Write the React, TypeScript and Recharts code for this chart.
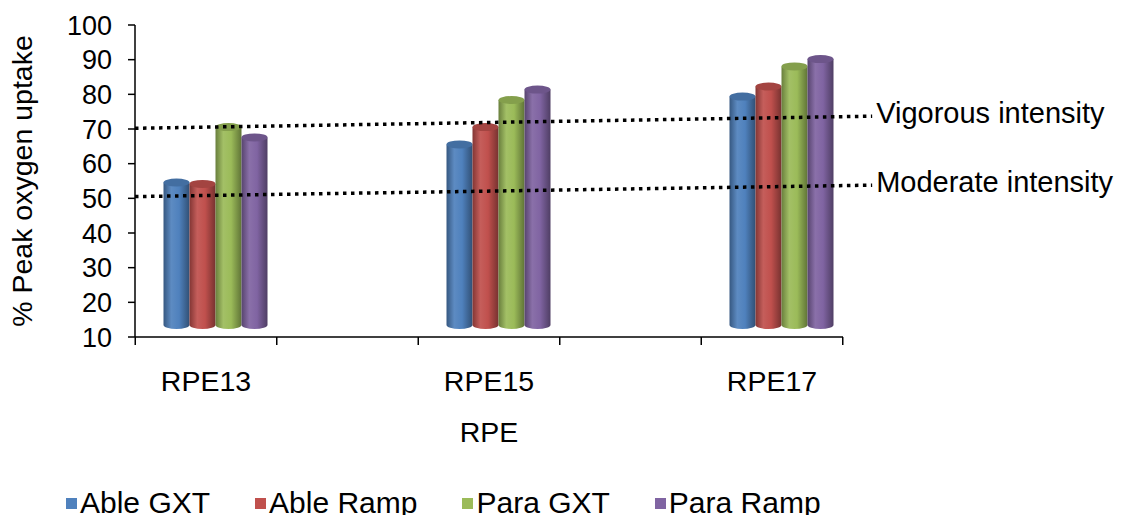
import React from "react";
import {
  Bar,
  BarChart,
  Legend,
  ReferenceDot,
  ReferenceLine,
  XAxis,
  YAxis,
} from "recharts";

const FONT = "'Liberation Sans', Arial, sans-serif";

// categories and series values (% peak oxygen uptake)
const categories = ["RPE13", "RPE15", "RPE17"];
const ableGxt = [51.1, 62.1, 75.9];
const ableRamp = [50.7, 67.1, 78.8];
const paraGxt = [67.1, 74.9, 84.6];
const paraRamp = [64.1, 77.9, 86.7];

const yTicks = [10, 20, 30, 40, 50, 60, 70, 80, 90, 100];

// dotted guide lines, drawn a little uphill like the 3D original
const intensityNames = ["Vigorous intensity", "Moderate intensity"];
const intensityStart = [70.2, 50.5];
const intensityEnd = [73.7, 53.8];
// positions on the hidden category-index axis
const lineStartX = -0.25;
const lineEndX = 2.353;
const labelLift = 0.9;

const series = [
  { key: "ableGxt", name: "Able GXT", color: "#4F81BD" },
  { key: "ableRamp", name: "Able Ramp", color: "#C0504D" },
  { key: "paraGxt", name: "Para GXT", color: "#9BBB59" },
  { key: "paraRamp", name: "Para Ramp", color: "#8064A2" },
];

const data = categories.map((name, i) => ({
  name,
  ableGxt: ableGxt[i],
  ableRamp: ableRamp[i],
  paraGxt: paraGxt[i],
  paraRamp: paraRamp[i],
}));

function shade(hex: string, f: number) {
  const n = parseInt(hex.slice(1), 16);
  const ch = [(n >> 16) & 255, (n >> 8) & 255, n & 255].map((c) =>
    Math.max(0, Math.min(255, Math.round(f > 1 ? c + (255 - c) * (f - 1) : c * f)))
  );
  return `rgb(${ch[0]},${ch[1]},${ch[2]})`;
}

// 3D depth shift of the original
const DX = 9;
const DY = 12;

function Cylinder(props: any) {
  const { x, y, width, height, gradId, color } = props;
  if (height == null || width == null) return null;
  const l = x + DX;
  const r = l + width;
  const top = y - DY;
  const bottom = y + height - DY;
  const rx = width / 2;
  const ry = 4;
  return (
    <g>
      <path
        d={`M${l},${top} L${l},${bottom} A${rx},${ry} 0 0 0 ${r},${bottom} L${r},${top} Z`}
        fill={`url(#${gradId})`}
      />
      <ellipse cx={l + rx} cy={top} rx={rx} ry={ry} fill={shade(color, 0.85)} />
    </g>
  );
}

function CategoryTick({ x, y, payload }: any) {
  const q = (payload?.offset ?? 141.5) / 2;
  return (
    <g>
      <line x1={x - q} x2={x - q} y1={y} y2={y + 8} stroke="#000" strokeWidth={1.5} />
      <line x1={x + q} x2={x + q} y1={y} y2={y + 8} stroke="#000" strokeWidth={1.5} />
      <text
        x={x}
        y={y + 44}
        dy="0.355em"
        textAnchor="middle"
        fontSize={28.5}
        fontFamily={FONT}
        fill="#000"
      >
        {payload.value}
      </text>
    </g>
  );
}

function LegendRow() {
  return (
    <div
      style={{
        display: "flex",
        alignItems: "center",
        boxSizing: "border-box",
        width: 1136,
        height: 32,
        paddingLeft: 66,
        fontFamily: FONT,
        fontSize: 30,
        lineHeight: "32px",
        color: "#000",
        whiteSpace: "nowrap",
        overflow: "hidden",
      }}
    >
      {series.map((s) => (
        <div key={s.key} style={{ display: "flex", alignItems: "center", marginRight: 45 }}>
          <span
            style={{ display: "inline-block", width: 11, height: 11, background: s.color, marginRight: 3 }}
          />
          {s.name}
        </div>
      ))}
    </div>
  );
}

export default function App() {
  return (
    <div style={{ margin: -8, fontFamily: FONT, width: 1136, height: 523, overflow: "hidden" }}>
      <BarChart
        width={1136}
        height={523}
        data={data}
        margin={{ top: 25, right: 293, left: 0, bottom: 4 }}
        barSize={26}
        barGap={0}
      >
        <defs>
          {series.map((s) => (
            <linearGradient key={s.key} id={`cyl-${s.key}`} x1="0" y1="0" x2="1" y2="0">
              <stop offset="0%" stopColor={shade(s.color, 0.68)} />
              <stop offset="30%" stopColor={shade(s.color, 1.08)} />
              <stop offset="60%" stopColor={s.color} />
              <stop offset="100%" stopColor={shade(s.color, 0.62)} />
            </linearGradient>
          ))}
        </defs>
        <XAxis
          dataKey="name"
          height={150}
          padding={{ left: -70.5, right: -70.5 }}
          axisLine={{ stroke: "#000", strokeWidth: 1.5 }}
          tickLine={false}
          tickSize={0}
          tickMargin={0}
          interval={0}
          tick={<CategoryTick />}
          label={{
            value: "RPE",
            position: "insideTop",
            offset: 85,
            fontSize: 28.5,
            fill: "#000",
            fontFamily: FONT,
          }}
        />
        <XAxis
          xAxisId="line"
          type="number"
          dataKey={(d: any) => categories.indexOf(d.name)}
          domain={[-0.25, 2.25]}
          allowDataOverflow
          hide
        />
        <YAxis
          width={135}
          domain={[10, 100]}
          ticks={yTicks}
          interval={0}
          allowDataOverflow
          axisLine={{ stroke: "#000", strokeWidth: 1.5 }}
          tickLine={{ stroke: "#000", strokeWidth: 1.5 }}
          tickSize={7}
          tickMargin={16}
          tick={{ fill: "#000", fontSize: 27, fontFamily: FONT }}
          label={{
            value: "% Peak oxygen uptake",
            angle: -90,
            position: "insideLeft",
            offset: 22,
            fontSize: 28.5,
            fill: "#000",
            fontFamily: FONT,
            style: { textAnchor: "middle" },
          }}
        />
        <Legend
          verticalAlign="bottom"
          wrapperStyle={{ left: 0, width: 1136, height: 32 }}
          content={<LegendRow />}
        />
        {series.map((s) => (
          <Bar
            key={s.key}
            dataKey={s.key}
            name={s.name}
            fill={s.color}
            isAnimationActive={false}
            shape={<Cylinder gradId={`cyl-${s.key}`} color={s.color} />}
          />
        ))}
        {intensityNames.map((name, i) => (
          <ReferenceLine
            key={name}
            xAxisId="line"
            segment={[
              { x: lineStartX, y: intensityStart[i] },
              { x: lineEndX, y: intensityEnd[i] },
            ]}
            stroke="#000"
            strokeWidth={3.5}
            strokeDasharray="3.5 4.5"
            ifOverflow="visible"
          />
        ))}
        {intensityNames.map((name, i) => (
          <ReferenceDot
            key={`${name}-label`}
            xAxisId="line"
            x={lineEndX}
            y={intensityEnd[i] + labelLift}
            r={0}
            fill="none"
            stroke="none"
            ifOverflow="visible"
            label={{
              value: name,
              position: "right",
              offset: 4,
              fontSize: 29,
              fill: "#000",
              fontFamily: FONT,
            }}
          />
        ))}
      </BarChart>
    </div>
  );
}
